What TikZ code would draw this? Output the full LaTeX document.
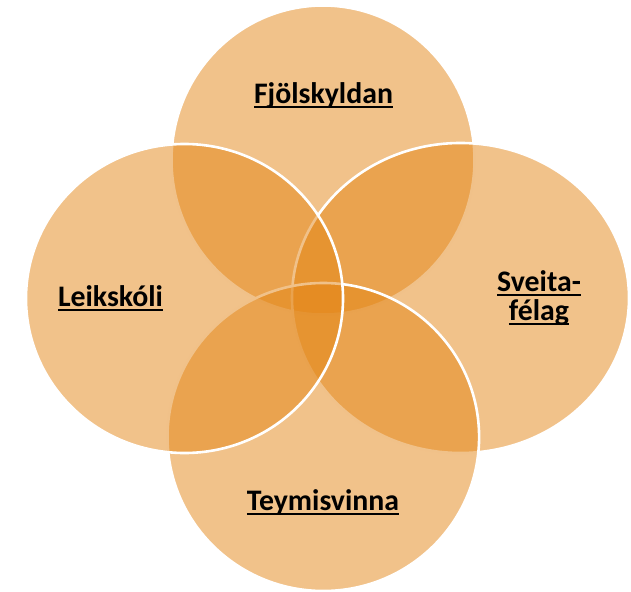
\documentclass[tikz,border=0pt]{standalone}
\usepackage{fontspec}
\setmainfont{Carlito}
\newcommand\ulbox[1]{\setbox0=\hbox{#1}\rlap{\rule[-4.4pt]{\wd0}{1.9pt}}\box0}
\definecolor{vennorange}{RGB}{227,133,21}
\begin{document}
\begin{tikzpicture}[x=1pt,y=-1pt,
  venn/.style={fill=vennorange, fill opacity=0.5, draw=white, draw opacity=1, line width=2.6pt},
  lbl/.style={font=\fontsize{29.8}{29}\selectfont\bfseries, text=black, inner sep=0pt, anchor=base, align=center}]
\useasboundingbox (0,0) rectangle (631,591);
% drawing order: top, right, bottom, left
\path[venn] (323,160) ellipse [x radius=151.5, y radius=154.5];
\path[venn] (460.5,298) ellipse [x radius=168.5, y radius=155];
\path[venn] (323.3,437) ellipse [x radius=155.8, y radius=154];
\path[venn] (184.5,298.5) ellipse [x radius=158.5, y radius=154.5];
% labels
\node[lbl] (fjol) at (323.5,104) {\ulbox{Fjölskyldan}};
\node[lbl] (leik) at (110.5,306.5) {\ulbox{Leikskóli}};
\node[lbl] (sveit) at (539,320.5) {\ulbox{Sveita-}\\\ulbox{félag}};
\node[lbl] (teym) at (323,510.5) {\ulbox{Teymisvinna}};
\end{tikzpicture}
\end{document}
